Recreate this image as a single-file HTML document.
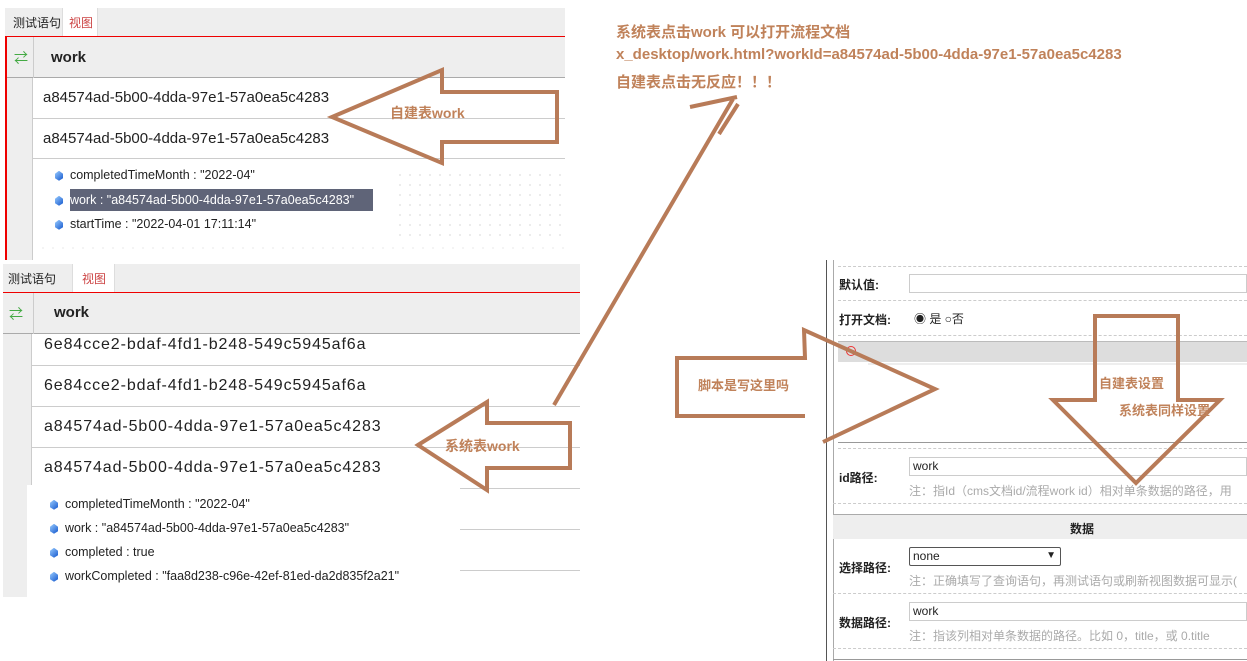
<!DOCTYPE html>
<html><head><meta charset="utf-8"><style>
*{margin:0;padding:0;box-sizing:border-box}
body{width:1247px;height:661px;background:#fff;position:relative;overflow:hidden;font-family:"Liberation Sans","Noto Sans CJK SC",sans-serif;color:#222}
.a{position:absolute}
.t{position:absolute;font-size:13px;white-space:nowrap}
.row{position:absolute;border-bottom:1px solid #ccc}
.lab{position:absolute;font-size:12px;font-weight:bold;color:#222}
.inp{position:absolute;border:1px solid #ccc;background:#fff;font-size:12px;padding-left:3px;line-height:16px}
.note{position:absolute;font-size:12px;color:#aaa;white-space:nowrap}
.dash{position:absolute;border-top:1px dashed #ccc;height:0}
.ann{position:absolute;color:#c0825a;font-weight:bold;font-size:15px;white-space:nowrap}
.dia{display:inline-block;width:8px;height:10px;background:linear-gradient(135deg,#9cf,#15c);clip-path:polygon(50% 0,100% 30%,100% 75%,50% 100%,0 75%,0 30%);vertical-align:middle}
</style></head><body>
<!-- top panel -->
<div class="a" style="left:5px;top:8px;width:560px;height:29px;background:#eee"></div>
<div class="a" style="left:62px;top:8px;width:36px;height:29px;background:#fff;border-left:1px solid #ddd;border-right:1px solid #ddd"></div>
<div class="t" style="left:13px;top:14px;font-size:12px">测试语句</div>
<div class="t" style="left:69px;top:14px;font-size:12px;color:#c44">视图</div>
<div class="a" style="left:5px;top:36px;width:560px;height:1px;background:#e00"></div>
<div class="a" style="left:5px;top:36px;width:2px;height:224px;background:#e00"></div>
<div class="a" style="left:7px;top:37px;width:558px;height:41px;background:#eee;border-bottom:1px solid #aaa"></div>
<div class="a" style="left:33px;top:37px;width:1px;height:41px;background:#ccc"></div>
<div class="t" style="left:14px;top:48px;color:#4a4;font-size:14px">⇄</div>
<div class="t" style="left:51px;top:49px;font-size:15px;font-weight:bold">work</div>
<div class="a" style="left:7px;top:78px;width:26px;height:182px;background:#eee;border-right:1px solid #ccc"></div>
<div class="row" style="left:33px;top:78px;width:532px;height:41px"></div>
<div class="row" style="left:33px;top:118px;width:532px;height:41px"></div>
<div class="t" style="left:43px;top:89px;font-size:15px">a84574ad-5b00-4dda-97e1-57a0ea5c4283</div>
<div class="t" style="left:43px;top:130px;font-size:15px">a84574ad-5b00-4dda-97e1-57a0ea5c4283</div>
<div class="a" style="left:395px;top:170px;width:170px;height:72px;background-image:radial-gradient(#bbb 0.6px,transparent 0.8px);background-size:10px 10px"></div>
<div class="a" style="left:38px;top:246px;width:527px;height:4px;background-image:radial-gradient(#bbb 0.6px,transparent 0.8px);background-size:10px 4px"></div>
<div class="a" style="left:70px;top:189px;width:303px;height:22px;background:#5f6478"></div>
<div class="t" style="left:55px;top:168px;font-size:12.5px"><span class="dia"></span>&nbsp;&nbsp;completedTimeMonth : "2022-04"</div>
<div class="t" style="left:55px;top:193px;font-size:12.5px"><span class="dia"></span>&nbsp;&nbsp;<span style="color:#fff">work : "a84574ad-5b00-4dda-97e1-57a0ea5c4283"</span></div>
<div class="t" style="left:55px;top:217px;font-size:12.5px"><span class="dia"></span>&nbsp;&nbsp;startTime : "2022-04-01 17:11:14"</div>

<!-- bottom panel -->
<div class="a" style="left:3px;top:264px;width:577px;height:29px;background:#eee"></div>
<div class="a" style="left:72px;top:264px;width:43px;height:29px;background:#fff;border-left:1px solid #ddd;border-right:1px solid #ddd"></div>
<div class="t" style="left:8px;top:270px;font-size:12px">测试语句</div>
<div class="t" style="left:82px;top:270px;font-size:12px;color:#c44">视图</div>
<div class="a" style="left:3px;top:292px;width:577px;height:1px;background:#e00"></div>
<div class="a" style="left:3px;top:293px;width:577px;height:41px;background:#eee;border-bottom:1px solid #aaa"></div>
<div class="a" style="left:33px;top:293px;width:1px;height:41px;background:#ccc"></div>
<div class="t" style="left:9px;top:304px;color:#4a4;font-size:14px">⇄</div>
<div class="t" style="left:54px;top:304px;font-size:15px;font-weight:bold">work</div>
<div class="a" style="left:3px;top:334px;width:29px;height:263px;background:#eee;border-right:1px solid #ccc"></div>
<div class="row" style="left:32px;top:334px;width:548px;height:32px"></div>
<div class="row" style="left:32px;top:365px;width:548px;height:42px"></div>
<div class="row" style="left:32px;top:406px;width:548px;height:42px"></div>
<div class="row" style="left:32px;top:447px;width:548px;height:42px"></div>
<div class="row" style="left:460px;top:488px;width:120px;height:42px"></div>
<div class="row" style="left:460px;top:529px;width:120px;height:42px"></div>
<div class="t" style="left:44px;top:336px;font-size:16px;letter-spacing:0.9px">6e84cce2-bdaf-4fd1-b248-549c5945af6a</div>
<div class="t" style="left:44px;top:377px;font-size:16px;letter-spacing:0.9px">6e84cce2-bdaf-4fd1-b248-549c5945af6a</div>
<div class="t" style="left:44px;top:418px;font-size:16px;letter-spacing:0.9px">a84574ad-5b00-4dda-97e1-57a0ea5c4283</div>
<div class="t" style="left:44px;top:459px;font-size:16px;letter-spacing:0.9px">a84574ad-5b00-4dda-97e1-57a0ea5c4283</div>
<div class="a" style="left:27px;top:485px;width:433px;height:112px;background:#fff"></div>
<div class="t" style="left:50px;top:497px;font-size:12.5px"><span class="dia"></span>&nbsp;&nbsp;completedTimeMonth : "2022-04"</div>
<div class="t" style="left:50px;top:521px;font-size:12.5px"><span class="dia"></span>&nbsp;&nbsp;work : "a84574ad-5b00-4dda-97e1-57a0ea5c4283"</div>
<div class="t" style="left:50px;top:545px;font-size:12.5px"><span class="dia"></span>&nbsp;&nbsp;completed : true</div>
<div class="t" style="left:50px;top:569px;font-size:12.5px"><span class="dia"></span>&nbsp;&nbsp;workCompleted : "faa8d238-c96e-42ef-81ed-da2d835f2a21"</div>

<!-- right panel -->
<div class="a" style="left:826px;top:260px;width:1px;height:401px;background:#555"></div>
<div class="a" style="left:833px;top:260px;width:1px;height:401px;background:#aaa"></div>
<div class="dash" style="left:838px;top:266px;width:409px"></div>
<div class="lab" style="left:839px;top:276px">默认值:</div>
<div class="inp" style="left:909px;top:274px;width:338px;height:19px"></div>
<div class="dash" style="left:838px;top:300px;width:409px"></div>
<div class="lab" style="left:839px;top:311px">打开文档:</div>
<div class="t" style="left:914px;top:310px;font-size:12px">◉ 是 ○否</div>
<div class="dash" style="left:838px;top:335px;width:409px"></div>
<div class="a" style="left:838px;top:341px;width:409px;height:21px;background:#ddd;border-top:1px solid #bbb"></div>
<div class="a" style="left:846px;top:346px;width:10px;height:10px;border:1px solid #e33;border-radius:50%"></div>
<div class="a" style="left:868px;top:363px;width:379px;height:2px;background:#eee"></div>
<div class="a" style="left:838px;top:442px;width:409px;height:1px;background:#999"></div>
<div class="dash" style="left:838px;top:448px;width:409px"></div>
<div class="lab" style="left:839px;top:469px">id路径:</div>
<div class="inp" style="left:909px;top:457px;width:338px;height:19px">work</div>
<div class="note" style="left:909px;top:482px">注：指Id（cms文档id/流程work id）相对单条数据的路径，用</div>
<div class="dash" style="left:833px;top:503px;width:414px"></div>
<div class="a" style="left:833px;top:514px;width:414px;height:25px;background:#eee;border-top:1px solid #aaa"></div>
<div class="lab" style="left:1070px;top:520px">数据</div>
<div class="lab" style="left:839px;top:559px">选择路径:</div>
<div class="inp" style="left:909px;top:547px;width:152px;height:19px;border-color:#555;border-radius:2px">none<span style="position:absolute;right:4px;font-size:10px">▼</span></div>
<div class="note" style="left:909px;top:572px">注：正确填写了查询语句，再测试语句或刷新视图数据可显示(</div>
<div class="dash" style="left:833px;top:593px;width:414px"></div>
<div class="lab" style="left:839px;top:614px">数据路径:</div>
<div class="inp" style="left:909px;top:602px;width:338px;height:19px">work</div>
<div class="note" style="left:909px;top:627px">注：指该列相对单条数据的路径。比如 0，title，或 0.title</div>
<div class="dash" style="left:833px;top:648px;width:414px"></div>
<div class="a" style="left:833px;top:659px;width:414px;height:1px;background:#999"></div>

<svg class="a" style="left:0;top:0" width="1247" height="661">
<g fill="none" stroke="#b87b58" stroke-width="4" stroke-linejoin="miter">
<polygon points="332,117 442,70 442,92 557,92 557,142 442,142 442,163"/>
<polygon points="418,445 487,402 487,423 570,423 570,468 487,468 487,490"/>
<line x1="554" y1="405" x2="733" y2="99"/>
<line x1="690" y1="107" x2="737" y2="97"/>
<line x1="719" y1="134" x2="738" y2="104"/>
<polyline points="805,416 677,416 677,358 805,358 804,330 935,389 823,442"/>
<polygon points="1095,316 1178,316 1178,400 1220,400 1136,483 1053,400 1095,400"/>
</g>
</svg>
<div class="ann" style="left:390px;top:103px;font-size:14px">自建表work</div>
<div class="ann" style="left:445px;top:436px;font-size:14px">系统表work</div>
<div class="ann" style="left:698px;top:375px;font-size:13px">脚本是写这里吗</div>
<div class="ann" style="left:1099px;top:373px;font-size:13px">自建表设置</div>
<div class="ann" style="left:1119px;top:400px;font-size:13px">系统表同样设置</div>
<div class="ann" style="left:616px;top:21px">系统表点击work 可以打开流程文档</div>
<div class="ann" style="left:616px;top:46px">x_desktop/work.html?workId=a84574ad-5b00-4dda-97e1-57a0ea5c4283</div>
<div class="ann" style="left:616px;top:71px">自建表点击无反应！！！</div>
</body></html>
